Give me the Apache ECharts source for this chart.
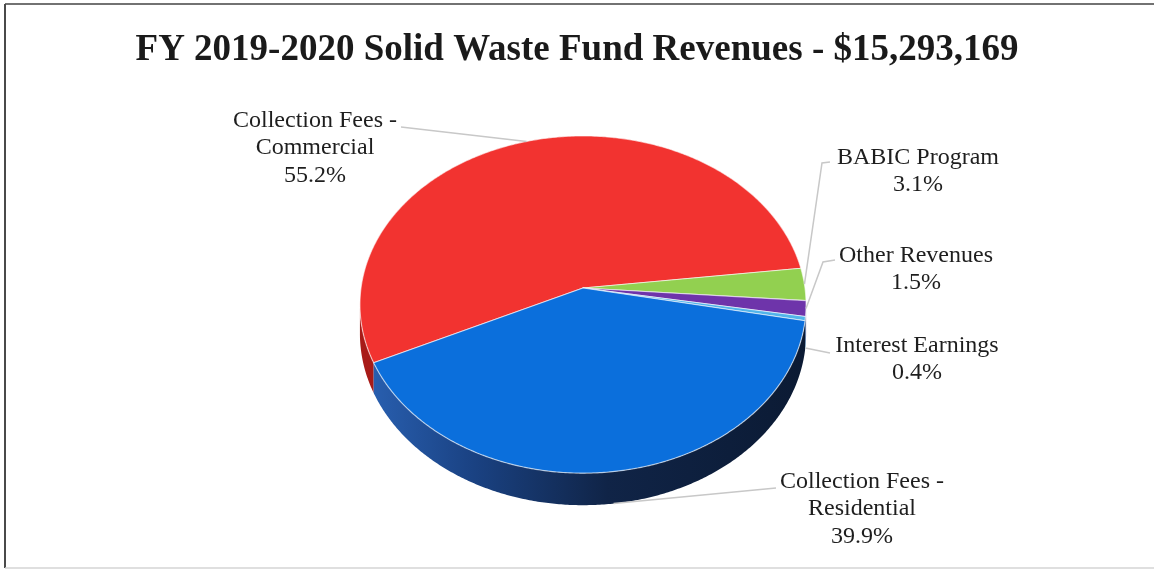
<!DOCTYPE html>
<html>
<head>
<meta charset="utf-8">
<title>FY 2019-2020 Solid Waste Fund Revenues</title>
<script src="https://cdn.jsdelivr.net/npm/echarts@6/dist/echarts.min.js"></script>
<style>
  html, body { margin: 0; padding: 0; background: #ffffff; }
  #chart { width: 1154px; height: 573px; }
</style>
</head>
<body>
<div id="chart"></div>
<script>
// Revenue sources and their share of the total (percent)
const categories = [
  'Collection Fees -\nCommercial',
  'BABIC Program',
  'Other Revenues',
  'Interest Earnings',
  'Collection Fees -\nResidential'
];
const shares = [55.2, 3.1, 1.5, 0.4, 39.9];
const titleText = 'FY 2019-2020 Solid Waste Fund Revenues - $15,293,169';

// Face colours of each slice and of its outer wall
const topColors  = ['#f23330', '#92d050', '#6e34aa', '#52b4ea', '#0b6fdc'];
const wallColors = ['#a81b18', '#5d8a2e', '#44206e', '#2a6d92', null];

// Tilted disc: centre, radii, perspective strength, thickness, first slice angle
const PIE = { cx: 583, cy: 288, a: 222, b: 167, k: 0.098, depth: 28.9, start: 154.6 };

// Label block centres and leader anchor points beside the text
const labelLayout = [
  { x: 315, y: 148, leader: [[401, 127]], rim: 0 },
  { x: 918, y: 171, leader: [[830, 162], [822, 163]], rim: 0 },
  { x: 916, y: 269, leader: [[835, 260], [823, 262]], rim: 0 },
  { x: 917, y: 359, leader: [[830, 353]], rim: 1 },
  { x: 862, y: 509, leader: [[776, 488]], rim: 1 }
];

const total = shares.reduce((s, v) => s + v, 0);

function sliceRange(i) {
  let s = PIE.start;
  for (let j = 0; j < i; j++) s += shares[j] / total * 360;
  return [s, s + shares[i] / total * 360];
}

// Perspective projection of a rim point: d = 0 top edge, d = 1 bottom edge
function proj(deg, d) {
  const r = deg * Math.PI / 180;
  const u = Math.cos(r), v = Math.sin(r);
  const w = 1 - PIE.k * v;
  return [PIE.cx + PIE.a * u / w, PIE.cy + (PIE.b * v + d * PIE.depth) / w];
}

function arc(s, e, d) {
  const pts = [];
  const n = Math.max(2, Math.ceil((e - s) / 0.5));
  for (let i = 0; i <= n; i++) pts.push(proj(s + (e - s) * i / n, d));
  return pts;
}

// Front-facing part of the wall lies between the two silhouette angles
const silR = Math.asin(PIE.k) * 180 / Math.PI;
const silL = 180 - silR;

const blueWall = new echarts.graphic.LinearGradient(360, 0, 810, 0, [
  { offset: 0, color: '#2a62b4' },
  { offset: 0.25, color: '#1a4283' },
  { offset: 0.55, color: '#102447' },
  { offset: 1, color: '#0b1a33' }
], true);

function renderWall(params, api) {
  const i = params.dataIndex;
  api.value(0);
  const [s, e] = sliceRange(i);
  const children = [];
  [[silR, silL], [silR + 360, silL + 360]].forEach(([lo, hi]) => {
    const a0 = Math.max(s, lo), a1 = Math.min(e, hi);
    if (a1 > a0) {
      const pts = arc(a0, a1, 0).concat(arc(a0, a1, 1).reverse());
      children.push({
        type: 'polygon',
        shape: { points: pts },
        style: { fill: wallColors[i] || blueWall, stroke: null }
      });
    }
  });
  return { type: 'group', children: children };
}

function renderTop(params, api) {
  const i = params.dataIndex;
  api.value(0);
  const [s, e] = sliceRange(i);
  const pts = [[PIE.cx, PIE.cy]].concat(arc(s, e, 0));
  return {
    type: 'polygon',
    shape: { points: pts },
    style: { fill: topColors[i], stroke: 'rgba(255,255,255,0.6)', lineWidth: 1.2, lineJoin: 'round' }
  };
}

function renderLabel(params, api) {
  const i = params.dataIndex;
  const val = api.value(0);
  const [s, e] = sliceRange(i);
  const lay = labelLayout[i];
  const end = proj((s + e) / 2, lay.rim);
  const pts = lay.leader.concat([end]);
  return {
    type: 'group',
    children: [
      {
        type: 'polyline',
        shape: { points: pts },
        style: { stroke: '#c8c8c8', lineWidth: 1.5, fill: 'none' }
      },
      {
        type: 'text',
        style: {
          text: categories[i] + '\n' + val.toFixed(1) + '%',
          x: lay.x,
          y: lay.y,
          font: '24px "Liberation Serif", "Times New Roman", serif',
          fill: '#1e1e1e',
          align: 'center',
          verticalAlign: 'middle',
          lineHeight: 27.5
        }
      }
    ]
  };
}

const chart = echarts.init(document.getElementById('chart'), null, { renderer: 'canvas' });
chart.setOption({
  backgroundColor: '#ffffff',
  animation: false,
  title: {
    text: titleText,
    left: 'center',
    top: 24,
    textStyle: {
      fontFamily: '"Liberation Serif", "Times New Roman", serif',
      fontWeight: 'bold',
      fontSize: 37,
      lineHeight: 42,
      color: '#1a1a1a'
    }
  },
  graphic: [
    { type: 'line', shape: { x1: 5, y1: 4, x2: 1154, y2: 4 }, style: { stroke: '#727272', lineWidth: 2 } },
    { type: 'line', shape: { x1: 5, y1: 4, x2: 5, y2: 568 }, style: { stroke: '#4a4a4a', lineWidth: 2 } },
    { type: 'line', shape: { x1: 5, y1: 568, x2: 1154, y2: 568 }, style: { stroke: '#d4d4d4', lineWidth: 1.5 } }
  ],
  series: [
    { type: 'custom', coordinateSystem: 'none', z: 1, silent: true, data: shares, renderItem: renderWall },
    { type: 'custom', coordinateSystem: 'none', z: 2, data: shares, renderItem: renderTop },
    { type: 'custom', coordinateSystem: 'none', z: 3, silent: true, data: shares, renderItem: renderLabel }
  ]
});
</script>
</body>
</html>
